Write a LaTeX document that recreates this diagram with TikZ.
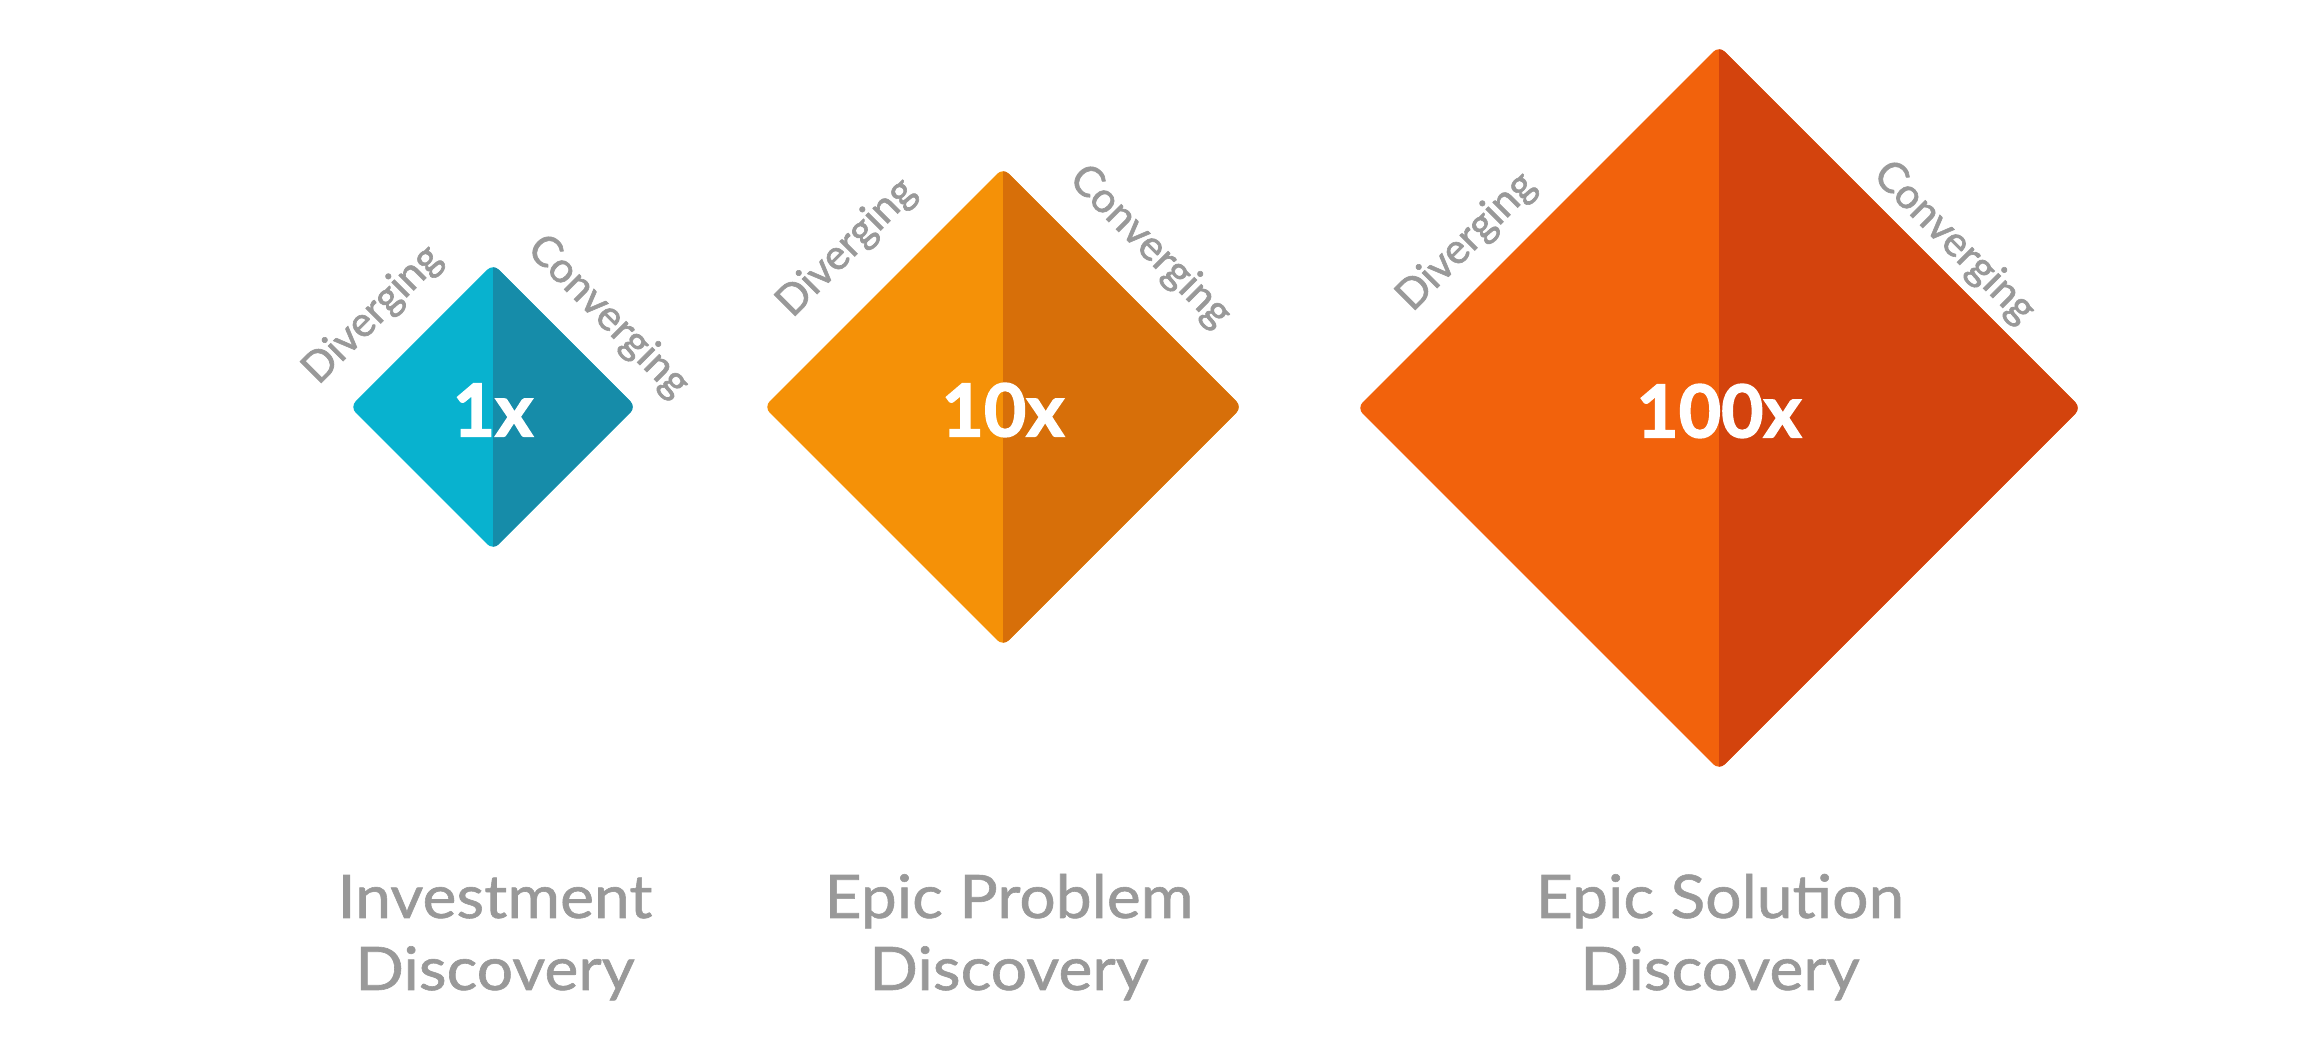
\documentclass[tikz,border=0pt]{standalone}
\usepackage{fontspec}
\setmainfont{Lato}
\newfontfamily\titlefont{Lato}[FakeStretch=1.07, FakeBold=1]
\newfontfamily\lblfont{Lato}[FakeBold=1.5]
\newfontfamily\numfont{Lato}[BoldFeatures={FakeBold=2}]
\usepackage{xcolor}
\usetikzlibrary{positioning,calc}

\definecolor{invL}{HTML}{08B2CF}
\definecolor{invR}{HTML}{168CA9}
\definecolor{probL}{HTML}{F59107}
\definecolor{probR}{HTML}{D76F09}
\definecolor{solL}{HTML}{F2620C}
\definecolor{solR}{HTML}{D3430D}
\definecolor{txtgray}{HTML}{999999}

\begin{document}
\begin{tikzpicture}[
  x=1pt, y=1pt,
  gem/.style={fill=#1, rounded corners=8pt},
  lbl/.style={font=\lblfont\fontsize{42}{50}\selectfont, text=txtgray, inner sep=0pt},
  num/.style={font=\numfont\bfseries\fontsize{73}{80}\selectfont, text=white, inner sep=0pt},
  title/.style={font=\titlefont\fontsize{60}{72}\selectfont, text=txtgray, anchor=base, inner sep=0pt},
]
\useasboundingbox (0,0) rectangle (2305,1060);
%% Diamond 1: investment (1x)
\fill[gem=invL] (493,796) -- ++(-143,-143) -- ++(143,-143) -- ++(143,143) -- cycle;
\begin{scope}
  \clip (493,500) rectangle (650,810);
  \fill[gem=invR] (493,796) -- ++(-143,-143) -- ++(143,-143) -- ++(143,143) -- cycle;
\end{scope}
\node[num] (n1) at (493,650) {1x};
\node[lbl, rotate=45] (div1) at (373,745) {Diverging};
\node[lbl, rotate=-45] (conv1) at (608,743) {Converging};
%% Diamond 2: epic problem (10x)
\fill[gem=probL] (1003,892) -- ++(-239,-239) -- ++(239,-239) -- ++(239,239) -- cycle;
\begin{scope}
  \clip (1003,400) rectangle (1260,910);
  \fill[gem=probR] (1003,892) -- ++(-239,-239) -- ++(239,-239) -- ++(239,239) -- cycle;
\end{scope}
\node[num] (n2) at (1003,650) {10x};
\node[lbl, rotate=45] (div2) at (847,812) {Diverging};
\node[lbl, rotate=-45] (conv2) at (1150,813) {Converging};
%% Diamond 3: epic solution (100x)
\fill[gem=solL] (1719,1014) -- ++(-362,-362) -- ++(362,-362) -- ++(362,362) -- cycle;
\begin{scope}
  \clip (1719,280) rectangle (2100,1030);
  \fill[gem=solR] (1719,1014) -- ++(-362,-362) -- ++(362,-362) -- ++(362,362) -- cycle;
\end{scope}
\node[num] (n3) at (1719,649) {100x};
\node[lbl, rotate=45] (div3) at (1467,818) {Diverging};
\node[lbl, rotate=-45] (conv3) at (1954,817) {Converging};
%% Titles under the diamonds
\node[title] (t1a) at (495,142) {Investment};
\node[title] (t1b) at (495,70) {Discovery};
\node[title] (t2a) at (1009,142) {Epic Problem};
\node[title] (t2b) at (1009,70) {Discovery};
\node[title] (t3a) at (1720,142) {Epic Solution};
\node[title] (t3b) at (1720,70) {Discovery};
\end{tikzpicture}
\end{document}
